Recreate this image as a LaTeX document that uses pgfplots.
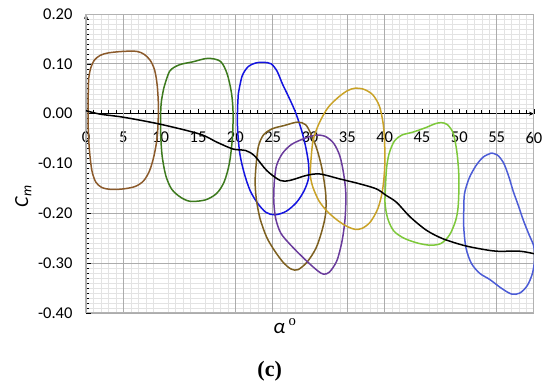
\documentclass[border=0pt]{standalone}
\usepackage{pgfplots}
\pgfplotsset{compat=1.18}
\usepackage{fontspec}
\setmainfont{Carlito}
\newfontfamily\serif{Liberation Serif}
\usetikzlibrary{arrows.meta}
\definecolor{cbrownA}{HTML}{8B5A2B}
\definecolor{cgreenA}{HTML}{3D7A1E}
\definecolor{cblue}{HTML}{1414E0}
\definecolor{cbrownB}{HTML}{7D6020}
\definecolor{cpurple}{HTML}{6A3C9C}
\definecolor{cgold}{HTML}{C9A227}
\definecolor{cgreenB}{HTML}{7DC83A}
\definecolor{cviolet}{HTML}{4C5CD6}
\begin{document}
\begin{tikzpicture}
\begin{axis}[
  scale only axis, width=448pt, height=299pt,
  xmin=0, xmax=60, ymin=-0.4, ymax=0.2,
  axis y line=left, axis x line=middle,
  xtick={0,5,...,60},
  ytick={-0.4,-0.3,-0.2,-0.1,0,0.1,0.2},
  minor x tick num=4, minor y tick num=9,
  xtick align=inside, ytick align=inside,
  major tick length=5pt, minor tick length=3.5pt,
  every tick/.style={black, line width=0.6pt},
  ymajorgrids, yminorgrids, xminorgrids,
  major grid style={gray!65, line width=0.7pt},
  minor grid style={gray!22, line width=0.4pt},
  extra x ticks={0,5,20,25,35,40,55},
  extra x tick labels={0},
  extra x tick style={grid=major, major tick length=0pt, major grid style={gray!65, line width=0.7pt}},
  axis line style={black, line width=0.8pt},
  x axis line style={-{Stealth[length=5pt,width=4pt]}},
  y axis line style={-{Stealth[length=5pt,width=4pt]}},
  /pgf/number format/assume math mode=true,
  tick label style={font=\fontsize{16.5}{19}\selectfont, black},
  xticklabel style={yshift=-15pt},
  yticklabel style={xshift=-10pt, /pgf/number format/.cd, fixed, fixed zerofill, precision=2},
  clip mode=individual,
  every axis plot/.append style={line width=1.5pt},
]
\draw[gray!60, line width=1pt] (rel axis cs:0,0) rectangle (rel axis cs:1,1);

% loop 0-10
\addplot[cbrownA, smooth] coordinates {
(0.35,0.07) (0.6,0.09) (1.1,0.107) (1.9,0.117) (3,0.122) (5,0.125) (6.8,0.125) (7.8,0.119) (8.6,0.107) (9.2,0.087) (9.55,0.055) (9.7,0.01) (9.55,-0.045) (9.1,-0.085) (8.5,-0.115) (7.7,-0.135) (6.6,-0.146) (5,-0.151) (3.3,-0.152) (2.1,-0.148) (1.3,-0.137) (0.8,-0.115) (0.5,-0.08) (0.32,-0.04) (0.28,0.0) (0.3,0.04) (0.35,0.07)};
% loop 10-20
\addplot[cgreenA, smooth] coordinates {
(10.4,0.05) (11.2,0.085) (12.5,0.098) (14.3,0.104) (16.3,0.111) (18,0.105) (18.9,0.08) (19.5,0.04) (19.7,0) (19.6,-0.05) (19.2,-0.1) (18.5,-0.137) (17.5,-0.16) (16,-0.173) (14,-0.176) (12.7,-0.168) (11.5,-0.152) (10.7,-0.125) (10.2,-0.085) (10.0,-0.04) (10,0.0) (10.1,0.025) (10.4,0.05)};
% loop 20-30
\addplot[cblue, smooth] coordinates {
(20.4,0.04) (20.9,0.075) (21.7,0.094) (22.8,0.102) (23.8,0.103) (24.8,0.1) (25.6,0.085) (26.3,0.06) (27.1,0.035) (28,0.005) (28.8,-0.03) (29.4,-0.065) (29.8,-0.1) (29.8,-0.13) (29.2,-0.155) (28.2,-0.178) (26.8,-0.196) (25.3,-0.203) (24.1,-0.198) (23,-0.18) (22,-0.155) (21.2,-0.12) (20.6,-0.08) (20.3,-0.03) (20.3,0.01) (20.4,0.04)};
% loop 22-32
\addplot[cbrownB, smooth] coordinates {
(22.8,-0.1) (23.1,-0.065) (23.8,-0.042) (25,-0.03) (26.5,-0.024) (28.3,-0.017) (29.4,-0.022) (30.1,-0.04) (30.9,-0.07) (31.6,-0.11) (32.1,-0.16) (32.1,-0.2) (31.6,-0.235) (30.8,-0.27) (29.6,-0.298) (28.4,-0.313) (27.5,-0.312) (26.5,-0.3) (25.3,-0.276) (24.2,-0.248) (23.3,-0.21) (22.8,-0.17) (22.65,-0.135) (22.8,-0.1)};
% loop 25-35
\addplot[cpurple, smooth] coordinates {
(25.2,-0.14) (25.5,-0.105) (26.3,-0.08) (27.5,-0.062) (29.2,-0.05) (30.8,-0.043) (32.1,-0.046) (33.2,-0.06) (34.0,-0.085) (34.5,-0.12) (34.8,-0.16) (34.7,-0.21) (34.3,-0.255) (33.6,-0.295) (32.6,-0.318) (31.8,-0.322) (31,-0.315) (29.5,-0.295) (27.5,-0.265) (26.1,-0.24) (25.4,-0.21) (25.15,-0.175) (25.2,-0.14)};
% loop 30-40
\addplot[cgold, smooth] coordinates {
(30.1,-0.1) (30.4,-0.055) (31.2,-0.02) (32.4,0.012) (33.8,0.033) (35.0,0.046) (36.0,0.051) (37.2,0.049) (38.4,0.038) (39.3,0.015) (39.8,-0.02) (40.0,-0.06) (40.0,-0.11) (39.7,-0.155) (39.1,-0.19) (38.1,-0.217) (37.0,-0.23) (36.0,-0.232) (34.8,-0.225) (33.6,-0.213) (32.3,-0.196) (31.2,-0.175) (30.4,-0.148) (30.05,-0.125) (30.1,-0.1)};
% loop 40-50
\addplot[cgreenB, smooth] coordinates {
(40.1,-0.15) (40.25,-0.11) (40.6,-0.08) (41.3,-0.055) (42.3,-0.043) (43.8,-0.037) (45.5,-0.028) (46.8,-0.02) (47.6,-0.018) (48.4,-0.022) (49.2,-0.04) (49.7,-0.08) (49.95,-0.13) (49.85,-0.185) (49.5,-0.215) (48.7,-0.243) (47.6,-0.26) (46.2,-0.264) (44.5,-0.26) (42.6,-0.25) (41.2,-0.235) (40.4,-0.21) (40.05,-0.18) (40.1,-0.15)};
% loop 50-60
\addplot[cviolet, smooth] coordinates {
(54.3,-0.079) (55.1,-0.083) (55.9,-0.098) (56.6,-0.125) (57.2,-0.155) (57.8,-0.18) (58.6,-0.215) (59.4,-0.245) (59.95,-0.265) (60.1,-0.29) (59.8,-0.32) (59.1,-0.345) (58.1,-0.36) (57.0,-0.362) (55.6,-0.35) (54.1,-0.333) (52.7,-0.32) (51.6,-0.3) (50.9,-0.27) (50.6,-0.23) (50.6,-0.19) (50.7,-0.16) (51.3,-0.13) (52.2,-0.105) (53.2,-0.087) (54.3,-0.079)};
% mean curve
\addplot[black, smooth] coordinates {
(0,0.006) (1.9,-0.001) (4.95,-0.007) (9.9,-0.021) (15.25,-0.041) (17.5,-0.057) (19.7,-0.071) (21.4,-0.074) (22.6,-0.085) (24.2,-0.114) (26.0,-0.134) (27.3,-0.134) (29.5,-0.124) (31.3,-0.121) (34.0,-0.131) (36.7,-0.141) (38.9,-0.151) (40.2,-0.164) (41.6,-0.178) (43.4,-0.207) (45.6,-0.234) (47.8,-0.251) (50.5,-0.264) (52.7,-0.271) (55.0,-0.276) (58.1,-0.276) (60,-0.281)};

\node[rotate=90, font=\fontsize{20}{23}\selectfont] at (axis description cs:-0.14,0.39) {\textit{C}\textsubscript{\textit{m}}};
\node[font=\fontsize{21}{24}\selectfont] at (axis description cs:0.444,-0.043) {\textit{α}\,\textsuperscript{\serif o}};
\node[font=\serif\bfseries\fontsize{22}{26}\selectfont] at (axis description cs:0.41,-0.194) {(c)};
\end{axis}
\path[use as bounding box] (-86pt,-78pt) rectangle (464pt,313pt);
\end{tikzpicture}
\end{document}
